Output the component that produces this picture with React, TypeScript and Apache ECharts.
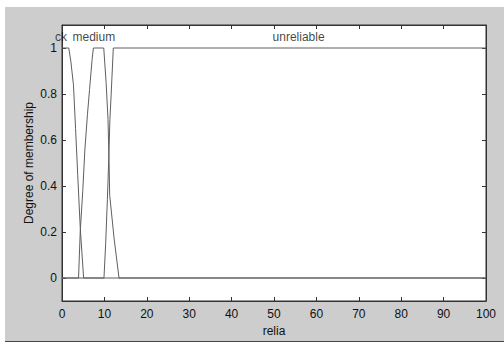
import React, { useEffect, useRef } from "react";
import * as echarts from "echarts";

const xTicks = [0, 10, 20, 30, 40, 50, 60, 70, 80, 90, 100];
const yTicks = [0, 0.2, 0.4, 0.6, 0.8, 1];

const lowMF = [[0, 1], [1.6, 1], [2.1, 0.94], [2.7, 0.84], [3.2, 0.65], [3.7, 0.45], [4.3, 0.22], [5.1, 0], [100, 0]];
const mediumMF = [[0, 0], [3.9, 0], [4.3, 0.2], [4.9, 0.38], [5.4, 0.56], [6.0, 0.71], [6.5, 0.82], [7.1, 0.95], [7.4, 1], [9.85, 1], [10.4, 0.85], [10.85, 0.69], [11.1, 0.5], [11.25, 0.36], [12.3, 0.17], [13.45, 0], [100, 0]];
const unreliableMF = [[0, 0], [9.9, 0], [10.3, 0.15], [10.7, 0.34], [11.0, 0.5], [11.3, 0.69], [11.6, 0.8], [12.1, 1], [100, 1]];

const mfLabels = [
  { name: "ck", x: 1.2, y: 1.05, align: "right" },
  { name: "medium", x: 7.5, y: 1.05, align: "center" },
  { name: "unreliable", x: 55.8, y: 1.05, align: "center" },
];

const FONT = "'Liberation Sans', Arial, Helvetica, sans-serif";

export default function App() {
  const ref = useRef<HTMLDivElement>(null);
  useEffect(() => {
    if (!ref.current) return;
    const chart = echarts.init(ref.current, null, { renderer: "svg" });
    const lineColor = "#5f5f5f";
    const axisCommon = {
      axisLine: { show: true, onZero: false, lineStyle: { color: "#333", width: 1 } },
      splitLine: { show: false },
    };
    const mkLine = (data: number[][]) => ({
      type: "line",
      data,
      showSymbol: false,
      symbol: "none",
      lineStyle: { color: lineColor, width: 1 },
      itemStyle: { color: lineColor },
      xAxisIndex: 0,
      yAxisIndex: 0,
      z: 3,
    });
    chart.setOption({
      animation: false,
      graphic: [
        { type: "rect", z: -100, shape: { x: 5, y: 7, width: 499, height: 334 }, style: { fill: "#cdcdcd" } },
        { type: "line", z: -99, shape: { x1: 5, y1: 341.5, x2: 504, y2: 341.5 }, style: { stroke: "#444", lineWidth: 1 } },
      ],
      grid: {
        left: 62,
        right: 18,
        top: 25,
        bottom: 42,
        show: true,
        backgroundColor: "#ffffff",
        borderColor: "#333",
        borderWidth: 1,
      },
      xAxis: [
        {
          type: "value",
          min: 0,
          max: 100,
          interval: 10,
          position: "bottom",
          ...axisCommon,
          axisTick: { show: true, inside: true, length: 4, lineStyle: { color: "#333" } },
          axisLabel: { show: true, margin: 7, fontSize: 12, color: "#111", fontFamily: FONT, showMaxLabel: true, showMinLabel: true },
          name: "relia",
          nameLocation: "middle",
          nameGap: 24,
          nameMoveOverlap: false,
          nameTextStyle: { fontSize: 12, color: "#111", fontFamily: FONT },
        },
        {
          type: "value",
          min: 0,
          max: 100,
          interval: 10,
          position: "top",
          ...axisCommon,
          axisTick: { show: true, inside: true, length: 4, lineStyle: { color: "#333" } },
          axisLabel: { show: false },
        },
      ],
      yAxis: [
        {
          type: "value",
          min: -0.1,
          max: 1.1,
          position: "left",
          ...axisCommon,
          axisTick: { show: true, inside: true, length: 4, customValues: yTicks, lineStyle: { color: "#333" } },
          axisLabel: { show: true, margin: 5, fontSize: 12, color: "#111", fontFamily: FONT, customValues: yTicks },
          name: "Degree of membership",
          nameLocation: "middle",
          nameGap: 27,
          nameMoveOverlap: false,
          nameRotate: 90,
          nameTextStyle: { fontSize: 12, color: "#111", fontFamily: FONT },
        },
        {
          type: "value",
          min: -0.1,
          max: 1.1,
          position: "right",
          ...axisCommon,
          axisTick: { show: true, inside: true, length: 4, customValues: yTicks, lineStyle: { color: "#333" } },
          axisLabel: { show: false },
        },
      ],
      series: [
        mkLine(lowMF),
        mkLine(mediumMF),
        mkLine(unreliableMF),
        {
          type: "scatter",
          xAxisIndex: 0,
          yAxisIndex: 0,
          symbolSize: 0,
          silent: true,
          z: 5,
          data: mfLabels.map((l) => ({
            value: [l.x, l.y],
            label: {
              show: true,
              position: "inside",
              formatter: l.name,
              align: l.align,
              verticalAlign: "middle",
              fontSize: 12,
              color: "#111",
              fontFamily: FONT,
            },
          })),
        },
      ],
    });
    return () => chart.dispose();
  }, []);
  return (
    <div
      ref={ref}
      style={{ position: "absolute", left: 0, top: 0, width: 504, height: 343, background: "#ffffff" }}
    />
  );
}
